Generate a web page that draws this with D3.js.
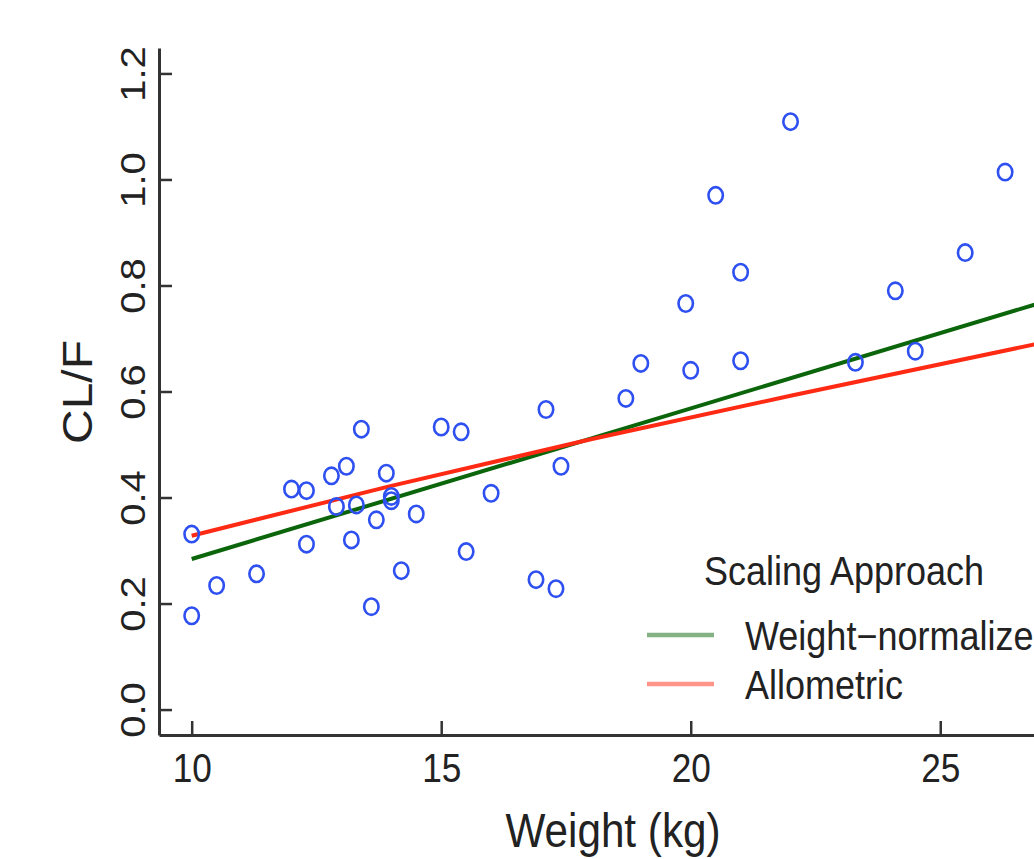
<!DOCTYPE html>
<html lang="en">
<head>
    <meta charset="UTF-8">
    <title>CL/F vs Weight</title>
    <script src="https://cdn.jsdelivr.net/npm/d3@7"></script>
</head>
<style>
    body { margin: 0; background: #fff; }
    svg { display: block; font-family: "Liberation Sans", Arial, sans-serif; }
</style>
<body>
    <div id="graphDiv"></div>

    <script>
        // observed data (weight in kg, CL/F)
        var weights = [10.0, 10.0, 10.5, 11.3, 12.0, 12.3, 12.3, 12.8, 12.9, 13.1,
                       13.2, 13.3, 13.4, 13.6, 13.7, 13.9, 14.0, 14.0, 14.2, 14.5,
                       15.0, 15.4, 15.5, 16.0, 16.9, 17.1, 17.3, 17.4, 18.7, 19.0,
                       19.9, 20.0, 20.5, 21.0, 21.0, 22.0, 23.3, 24.1, 24.5, 25.5, 26.3]
        var clf = [0.331, 0.177, 0.234, 0.256, 0.416, 0.413, 0.312, 0.441, 0.383, 0.459,
                   0.320, 0.386, 0.529, 0.194, 0.358, 0.446, 0.402, 0.394, 0.262, 0.369,
                   0.533, 0.524, 0.298, 0.408, 0.245, 0.566, 0.228, 0.459, 0.587, 0.653,
                   0.766, 0.640, 0.970, 0.825, 0.658, 1.109, 0.655, 0.790, 0.676, 0.862, 1.014]

        // fitted lines
        var wnWeights = [10, 27]
        var wnValues = [0.284, 0.767]
        var alloWeights = [10, 14, 18, 22, 27]
        var alloValues = [0.328, 0.422, 0.510, 0.592, 0.691]

        var xTicks = [10, 15, 20, 25]
        var yTicks = [0.0, 0.2, 0.4, 0.6, 0.8, 1.0, 1.2]
        var legendNames = ["Weight\u2212normalized", "Allometric"]
        var legendColours = ["#0b650b", "#ff2a14"]

        var width = 1034
        var height = 859
        var squish = 0.88   // the source image is a bit narrower than tall

        var svg = d3.select('#graphDiv')
            .append('svg')
            .attr('width', width)
            .attr('height', height)

        // plot region, R style with 4% padding on x
        var x = d3.scaleLinear().domain([9.345, 27.5]).range([159, 1065])
        var y = d3.scaleLinear().domain([-0.048, 1.248]).range([735, 48])

        /* axes, ticks point inward */
        var yAxis = svg.append('g')
            .attr('transform', 'translate(' + x.range()[0] + ',0)')
            .call(d3.axisLeft(y).tickValues(yTicks).tickSizeInner(-13).tickSizeOuter(0)
                .tickFormat(d3.format('.1f')))
        yAxis.selectAll('text')
            .attr('x', null).attr('dy', null)
            .attr('text-anchor', 'middle')
            .attr('transform', 'translate(-14,0) scale(' + squish + ',1) rotate(-90)')

        var xAxis = svg.append('g')
            .attr('transform', 'translate(0,' + y.range()[0] + ')')
            .call(d3.axisBottom(x).tickValues(xTicks).tickSizeInner(-14).tickSizeOuter(0))
        xAxis.selectAll('text')
            .attr('y', 47).attr('dy', null)
            .attr('transform', 'scale(' + squish + ',1)')

        svg.selectAll('.domain').attr('stroke', '#333').attr('stroke-width', 3)
        svg.selectAll('.tick line').attr('stroke', '#333').attr('stroke-width', 2.5)
        svg.selectAll('.tick text')
            .attr('font-size', 40)
            .attr('font-family', '"Liberation Sans", Arial, sans-serif')
            .attr('fill', '#222')

        // axis titles
        svg.append('text')
            .text('Weight (kg)')
            .attr('text-anchor', 'middle')
            .attr('font-size', 48)
            .attr('fill', '#222')
            .attr('transform', 'translate(613,847) scale(' + squish + ',1)')

        svg.append('text')
            .text('CL/F')
            .attr('text-anchor', 'middle')
            .attr('font-size', 48)
            .attr('fill', '#222')
            .attr('transform', 'translate(92,392) scale(' + squish + ',1) rotate(-90)')

        /* fitted lines */
        var line = d3.line().x(d => x(d[0])).y(d => y(d[1]))
        var fits = [d3.zip(wnWeights, wnValues), d3.zip(alloWeights, alloValues)]

        svg.selectAll('path.fit')
            .data(fits)
            .enter()
            .append('path')
            .attr('class', 'fit')
            .attr('d', line)
            .attr('fill', 'none')
            .attr('stroke', (d, i) => legendColours[i])
            .attr('stroke-width', 4)

        /* points, open circles */
        svg.selectAll('ellipse')
            .data(d3.zip(weights, clf))
            .enter()
            .append('ellipse')
            .attr('cx', d => x(d[0]))
            .attr('cy', d => y(d[1]))
            .attr('rx', 7.2)
            .attr('ry', 8.2)
            .attr('fill', 'none')
            .attr('stroke', '#2f50f0')
            .attr('stroke-width', 2.6)

        /* legend */
        var legendSquish = 0.9
        svg.append('text')
            .text('Scaling Approach')
            .attr('text-anchor', 'middle')
            .attr('font-size', 40)
            .attr('fill', '#222')
            .attr('transform', 'translate(844,585) scale(' + legendSquish + ',1)')

        var legendRows = [650, 699]
        legendNames.forEach(function (name, i) {
            svg.append('line')
                .attr('x1', 647).attr('x2', 714)
                .attr('y1', legendRows[i] - 15).attr('y2', legendRows[i] - 15)
                .attr('stroke', legendColours[i])
                .attr('stroke-opacity', 0.5)
                .attr('stroke-width', 4.5)
            svg.append('text')
                .text(name)
                .attr('font-size', 40)
                .attr('fill', '#222')
                .attr('transform', 'translate(745,' + legendRows[i] + ') scale(' + legendSquish + ',1)')
        })
    </script>
</body>
</html>
